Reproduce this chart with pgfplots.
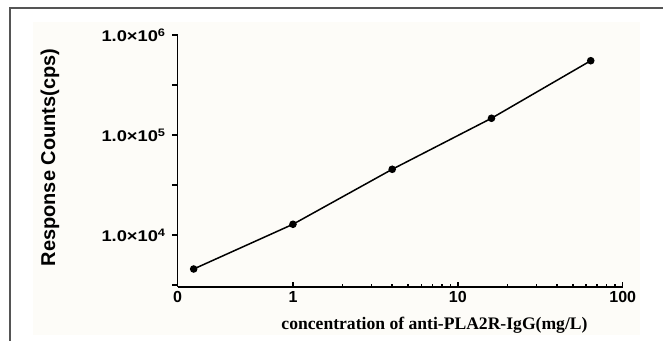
\documentclass[border=0pt]{standalone}
\usepackage{pgfplots}
\pgfplotsset{compat=1.18}
\usepackage{fontspec}
\setmainfont{Liberation Serif}
\newfontfamily\arial{Liberation Sans}
\definecolor{framegray}{RGB}{85,85,85}
\definecolor{cream}{RGB}{253,252,248}
\newcommand{\ylab}[1]{\scalebox{1.18}[1]{1.0×10\textsuperscript{#1}}}
\begin{document}
\begin{tikzpicture}[x=1pt,y=1pt]
\path[use as bounding box] (-177.7,-53) rectangle (485.3,287);
\fill[cream] (-144.7,265) rectangle (462.3,-48);
\draw[framegray,line width=1.4pt] (-167.7,-60) -- (-167.7,279) -- (500,279);
\begin{axis}[
  at={(0,0)}, anchor=south west,
  scale only axis, width=445pt, height=252pt,
  xmode=log, ymode=log,
  xmin=0.2, xmax=100, ymin=3020, ymax=1000000,
  axis x line=bottom, axis y line=left,
  axis line style={line width=1.5pt, -},
  xtick={1,10,100}, xticklabels={1,10,100},
  extra x ticks={0.2}, extra x tick labels={0},
  extra x tick style={tick style={draw=none}},
  ytick={3162.28,10000,31622.8,100000,316228,1000000},
  yticklabels={,\ylab{4},,\ylab{5},,\ylab{6}},
  minor tick num=0,
  major tick length=5.5pt,
  tick style={black, line width=1.5pt},
  xtick align=inside, ytick align=outside,
  xticklabel style={font=\arial\bfseries\fontsize{16}{16}\selectfont, yshift=-1pt},
  yticklabel style={font=\arial\bfseries\fontsize{15.5}{15.5}\selectfont, xshift=-3pt},
  clip=false,
]
\addplot[black, line width=1.5pt, mark=*, mark size=3pt] coordinates {
  (0.25,4570) (1,12800) (4,45400) (16,147000) (64,553000)
};
\end{axis}
\node[rotate=90, font=\arial\bfseries\fontsize{20}{20}\selectfont] at (-127.7,129.5) {Response Counts(cps)};
\node[font=\bfseries\fontsize{17.6}{17.6}\selectfont] at (256.8,-38) {concentration of anti-PLA2R-IgG(mg/L)};
\end{tikzpicture}
\end{document}
